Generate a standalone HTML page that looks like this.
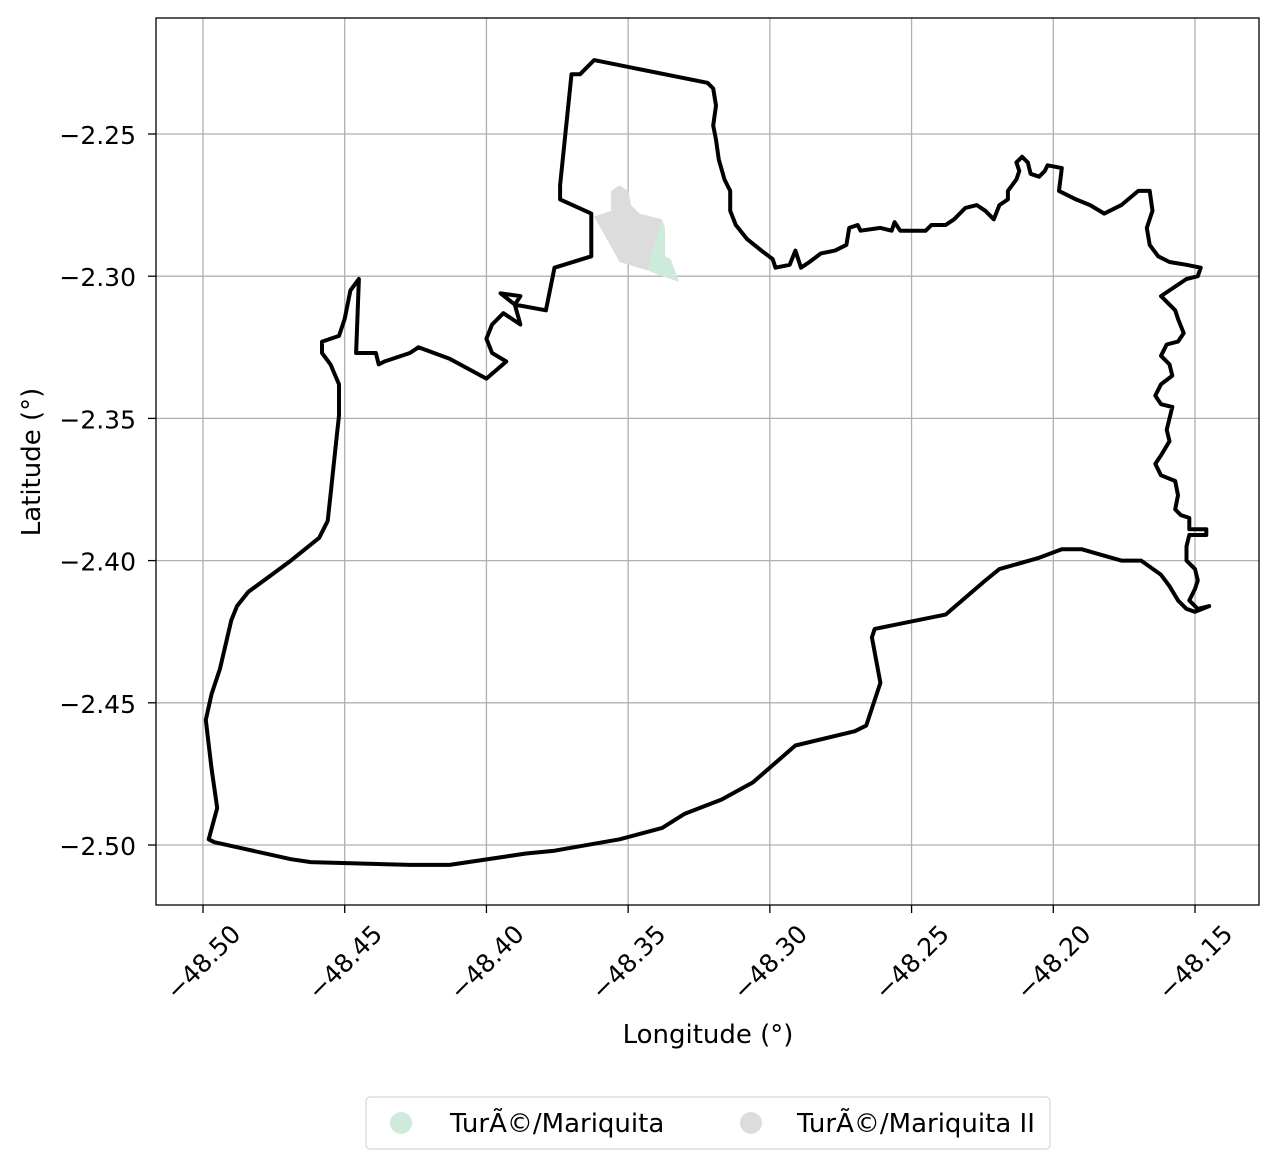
<!DOCTYPE html>
<html><head><meta charset="utf-8"><style>
body{margin:0;background:#fff;}
svg text{font-family:"DejaVu Sans","Liberation Sans",sans-serif;fill:#000;}
</style></head><body>
<svg id="chart" width="1279" height="1168" xmlns="http://www.w3.org/2000/svg">
<rect width="1279" height="1168" fill="#fff"/>
<g id="grid"></g>
<g id="patches"></g>
<g id="boundary"></g>
<rect x="156" y="18" width="1103" height="887" fill="none" stroke="#000" stroke-width="1.3"/>
<g id="xticks"></g><g id="yticks"></g>
<text x="708" y="1043" font-size="26" text-anchor="middle">Longitude (°)</text>
<text x="40" y="462" font-size="26" text-anchor="middle" transform="rotate(-90 40 462)">Latitude (°)</text>
<g>
<rect x="366" y="1097" width="684" height="52" rx="4" fill="#fff" stroke="#ccc"/>
<circle cx="401" cy="1123" r="11" fill="#cdeadb"/>
<text x="450" y="1132" font-size="26">TurÃ©/Mariquita</text>
<circle cx="751" cy="1123" r="11" fill="#dcdcdc"/>
<text x="797" y="1132" font-size="26">TurÃ©/Mariquita II</text>
</g>
</svg>
<script>
const xTicks=[-48.50,-48.45,-48.40,-48.35,-48.30,-48.25,-48.20,-48.15];
const yTicks=[-2.25,-2.30,-2.35,-2.40,-2.45,-2.50];
const boundaryLon=[-48.362,-48.322,-48.320,-48.319,-48.320,-48.319,-48.318,-48.316,-48.314,-48.314,-48.312,-48.308,-48.303,-48.299,-48.298,-48.293,-48.291,-48.289,-48.286,-48.282,-48.277,-48.273,-48.272,-48.269,-48.268,-48.261,-48.257,-48.256,-48.254,-48.245,-48.243,-48.238,-48.235,-48.231,-48.227,-48.224,-48.221,-48.219,-48.216,-48.216,-48.213,-48.212,-48.213,-48.211,-48.209,-48.208,-48.205,-48.203,-48.202,-48.197,-48.198,-48.192,-48.187,-48.182,-48.176,-48.170,-48.166,-48.165,-48.167,-48.166,-48.163,-48.159,-48.153,-48.148,-48.149,-48.153,-48.159,-48.162,-48.160,-48.157,-48.156,-48.154,-48.156,-48.160,-48.162,-48.159,-48.158,-48.162,-48.164,-48.162,-48.158,-48.160,-48.159,-48.162,-48.164,-48.162,-48.157,-48.156,-48.157,-48.155,-48.152,-48.152,-48.146,-48.146,-48.152,-48.153,-48.153,-48.150,-48.149,-48.150,-48.152,-48.149,-48.145,-48.150,-48.153,-48.156,-48.159,-48.162,-48.169,-48.176,-48.183,-48.190,-48.197,-48.205,-48.219,-48.224,-48.238,-48.263,-48.264,-48.261,-48.266,-48.270,-48.291,-48.306,-48.317,-48.330,-48.338,-48.353,-48.376,-48.386,-48.413,-48.427,-48.462,-48.469,-48.496,-48.498,-48.495,-48.497,-48.499,-48.497,-48.494,-48.490,-48.488,-48.484,-48.469,-48.459,-48.456,-48.455,-48.453,-48.452,-48.452,-48.455,-48.458,-48.458,-48.452,-48.450,-48.448,-48.445,-48.446,-48.439,-48.438,-48.436,-48.427,-48.424,-48.413,-48.400,-48.393,-48.398,-48.400,-48.398,-48.394,-48.388,-48.390,-48.395,-48.388,-48.390,-48.379,-48.376,-48.363,-48.363,-48.374,-48.374,-48.370,-48.367,-48.362];
const boundaryLat=[-2.224,-2.232,-2.234,-2.240,-2.247,-2.252,-2.259,-2.266,-2.270,-2.277,-2.282,-2.287,-2.291,-2.294,-2.297,-2.296,-2.291,-2.297,-2.295,-2.292,-2.291,-2.289,-2.283,-2.282,-2.284,-2.283,-2.284,-2.281,-2.284,-2.284,-2.282,-2.282,-2.280,-2.276,-2.275,-2.277,-2.280,-2.275,-2.273,-2.270,-2.266,-2.263,-2.260,-2.258,-2.260,-2.264,-2.265,-2.263,-2.261,-2.262,-2.270,-2.273,-2.275,-2.278,-2.275,-2.270,-2.270,-2.277,-2.283,-2.289,-2.293,-2.295,-2.296,-2.297,-2.300,-2.301,-2.305,-2.307,-2.309,-2.312,-2.315,-2.320,-2.323,-2.324,-2.328,-2.331,-2.335,-2.338,-2.342,-2.345,-2.346,-2.354,-2.358,-2.363,-2.366,-2.370,-2.372,-2.377,-2.382,-2.384,-2.385,-2.389,-2.389,-2.391,-2.391,-2.395,-2.400,-2.403,-2.407,-2.410,-2.414,-2.417,-2.416,-2.418,-2.417,-2.414,-2.409,-2.405,-2.400,-2.400,-2.398,-2.396,-2.396,-2.399,-2.403,-2.407,-2.419,-2.424,-2.427,-2.443,-2.458,-2.460,-2.465,-2.478,-2.484,-2.489,-2.494,-2.498,-2.502,-2.503,-2.507,-2.507,-2.506,-2.505,-2.499,-2.498,-2.487,-2.473,-2.456,-2.447,-2.438,-2.421,-2.416,-2.411,-2.400,-2.392,-2.386,-2.377,-2.358,-2.349,-2.338,-2.331,-2.327,-2.323,-2.321,-2.315,-2.305,-2.301,-2.327,-2.327,-2.331,-2.330,-2.327,-2.325,-2.329,-2.336,-2.330,-2.327,-2.322,-2.317,-2.313,-2.317,-2.310,-2.306,-2.307,-2.310,-2.312,-2.297,-2.293,-2.278,-2.273,-2.268,-2.229,-2.229,-2.224];
const greyLon=[-48.362,-48.356,-48.356,-48.353,-48.350,-48.349,-48.346,-48.342,-48.338,-48.343,-48.353];
const greyLat=[-2.279,-2.277,-2.270,-2.268,-2.270,-2.275,-2.278,-2.279,-2.280,-2.298,-2.295];
const greenLon=[-48.343,-48.338,-48.337,-48.337,-48.335,-48.332,-48.338];
const greenLat=[-2.298,-2.280,-2.283,-2.293,-2.294,-2.302,-2.300];
const NS="http://www.w3.org/2000/svg";
const X0=156,X1=1259,Y0=18,Y1=905;
function sx(v){return 203+(v+48.50)/0.35*(1195-203);}
function sy(v){return 134+(v+2.25)/(-0.25)*(845-134);}
function mk(t,a,p){const e=document.createElementNS(NS,t);for(const k in a)e.setAttribute(k,a[k]);document.getElementById(p).appendChild(e);return e;}
function fmt(v,d){return (v<0?"\u2212":"")+Math.abs(v).toFixed(d);}
xTicks.forEach(v=>{const x=sx(v);
 const g=mk('line',{x1:x,x2:x,y1:Y0,y2:Y1,stroke:'#b0b0b0','stroke-width':1.3},'grid');
 
 const t=mk('line',{x1:x,x2:x,y1:Y1,y2:Y1+8,stroke:'#000','stroke-width':1.3},'xticks');
 
 const l=mk('text',{x:x,y:971,'font-size':25,'text-anchor':'middle',transform:`rotate(-45 ${x} 962)`},'xticks');
 l.textContent=fmt(v,2);
 });
yTicks.forEach(v=>{const y=sy(v);
 const g=mk('line',{x1:X0,x2:X1,y1:y,y2:y,stroke:'#b0b0b0','stroke-width':1.3},'grid');
 
 const t=mk('line',{x1:X0-8,x2:X0,y1:y,y2:y,stroke:'#000','stroke-width':1.3},'yticks');
 
 const l=mk('text',{x:X0-20,y:y+10,'font-size':25,'text-anchor':'end'},'yticks');
 l.textContent=fmt(v,2);
 });
function pts(lo,la){return lo.map((v,i)=>sx(v).toFixed(1)+','+sy(la[i]).toFixed(1)).join(' ');}
const gp=mk('polygon',{points:pts(greyLon,greyLat),fill:'#dcdcdc'},'patches');

const gn=mk('polygon',{points:pts(greenLon,greenLat),fill:'#cdeadb'},'patches');

const b=mk('polygon',{points:pts(boundaryLon,boundaryLat),fill:'none',stroke:'#000','stroke-width':4,'stroke-linejoin':'round'},'boundary');

</script>
</body></html>
